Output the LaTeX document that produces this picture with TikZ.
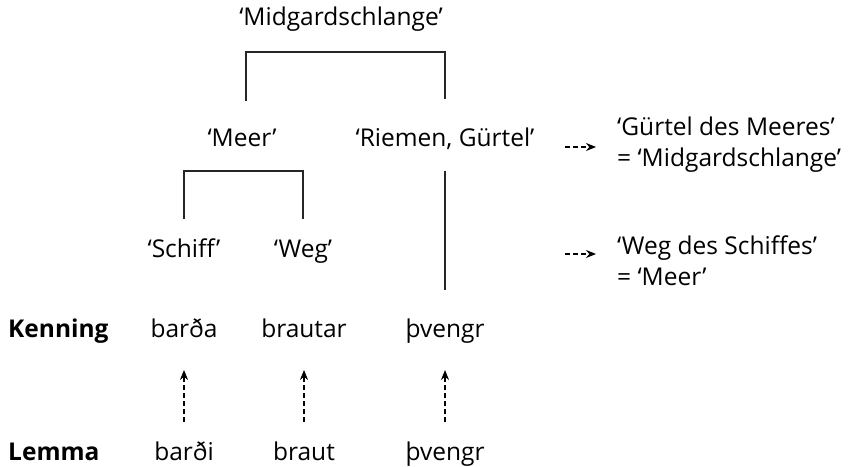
\documentclass[tikz,border=0pt]{standalone}
\usepackage{fontspec}
\setmainfont{Open Sans}
\usetikzlibrary{positioning,arrows.meta}

\begin{document}
\begin{tikzpicture}[x=1pt, y=-1pt, > = {Stealth[length=10pt,width=8pt]},
gloss/.style={font=\fontsize{24.5}{31}\selectfont, inner sep=0pt, anchor=base},
note/.style={font=\fontsize{24.5}{31}\selectfont, inner sep=0pt, anchor=west, align=left},
rowlabel/.style={font=\fontsize{24.5}{31}\selectfont\bfseries, inner sep=0pt, anchor=base west},
tree/.style={line width=1.1pt, draw=black!85},
link/.style={dash pattern=on 5pt off 3pt, ->, line width=1.2pt}]
\useasboundingbox (0,0) rectangle (861,466);

\node (midg) [gloss] at (341,25) {‘Midgardschlange’};
\node (meer) [gloss] at (242,146) {‘Meer’};
\node (riem) [gloss] at (445,146) {‘Riemen, Gürtel’};
\node (schiff) [gloss] at (184,257) {‘Schiff’};
\node (weg) [gloss] at (303,257) {‘Weg’};

\node (note1) [note] at (617,145) {‘Gürtel des Meeres’\\= ‘Midgardschlange’};
\node (note2) [note] at (617,261) {‘Weg des Schiffes’\\= ‘Meer’};

%Kenning row
\node (ken) [rowlabel] at (8,337) {Kenning};
\node (kbar) [gloss] at (184,337) {barða};
\node (kbra) [gloss] at (304,337) {brautar};
\node (kthv) [gloss] at (445,337) {þvengr};

%Lemma row
\node (lem) [rowlabel] at (8,460) {Lemma};
\node (lbar) [gloss] at (184,460) {barði};
\node (lbra) [gloss] at (304,460) {braut};
\node (lthv) [gloss] at (445,460) {þvengr};

%brackets
\draw [tree] (246,101) |- (midg |- 0,52) -| (riem |- 0,99);
\draw [tree] (schiff |- 0,219) |- (meer |- 0,171) -| (weg |- 0,219);
\draw [tree] (riem |- 0,171) -- (kthv |- 0,290);

%lemma to kenning
\draw [link] (lbar |- 0,422) -- (kbar |- 0,370);
\draw [link] (lbra |- 0,422) -- (kbra |- 0,370);
\draw [link] (lthv |- 0,422) -- (kthv |- 0,370);

%glosses
\coordinate (a1) at (565,147);
\coordinate (b1) at (596,147);
\coordinate (a2) at (565,254);
\coordinate (b2) at (596,254);
\draw [link] (a1) -- (b1);
\draw [link] (a2) -- (b2);
\end{tikzpicture}
\end{document}
